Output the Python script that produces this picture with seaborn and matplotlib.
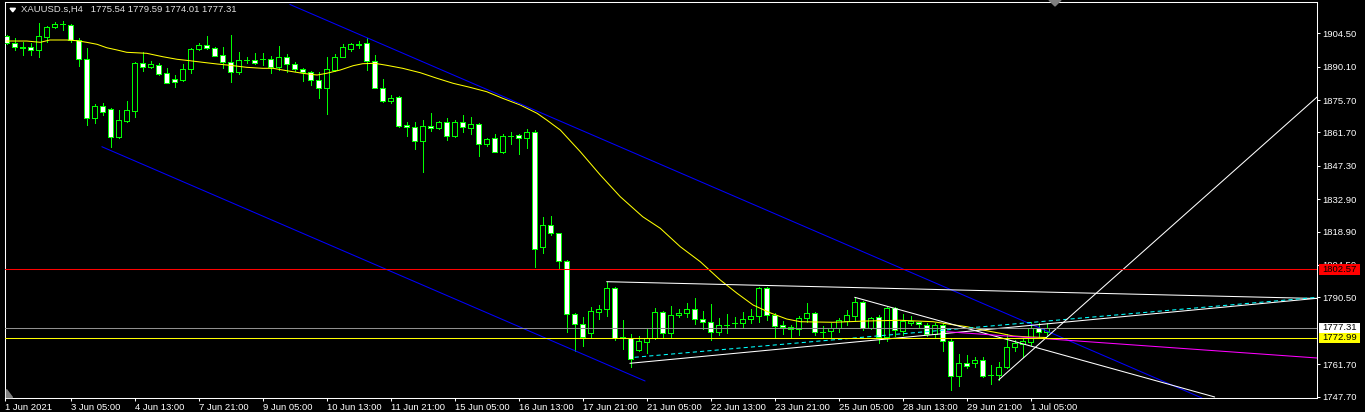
import numpy as np
import pandas as pd
import matplotlib
matplotlib.use('Agg')
import matplotlib.pyplot as plt
import matplotlib.transforms as mtransforms
from matplotlib.patches import Rectangle, Polygon
import seaborn as sns

# XAUUSD.s H4 candles, bar 0 = 1 Jun 2021 ... bar 130 = 1 Jul 2021
opens = [1903.33, 1900.18, 1898.59, 1898.59, 1897.16, 1903.03, 1907.09, 1908.30, 1908.08, 1901.61,
         1893.41, 1867.81, 1873.12, 1871.70, 1859.87, 1866.78, 1871.09, 1891.55, 1890.08, 1890.82,
         1887.23, 1884.77, 1884.34, 1888.96, 1897.59, 1899.32, 1898.02, 1895.13, 1892.24, 1887.92,
         1892.97, 1892.97, 1893.30, 1893.28, 1890.08, 1894.40, 1891.12, 1888.96, 1887.92, 1884.21,
         1880.76, 1888.66, 1894.40, 1897.72, 1899.66, 1900.18, 1892.67, 1881.02, 1875.28, 1876.88,
         1864.92, 1863.93, 1858.14, 1864.49, 1863.50, 1866.34, 1860.30, 1866.09, 1863.75, 1865.22,
         1856.59, 1859.18, 1853.40, 1860.30, 1860.60, 1859.18, 1861.77, 1812.39, 1821.63, 1818.18,
         1806.09, 1783.35, 1779.03, 1775.02, 1784.34, 1785.38, 1794.44, 1773.00, 1773.12, 1767.81,
         1771.39, 1772.86, 1784.08, 1775.02, 1782.79, 1783.91, 1785.38, 1781.06, 1779.77, 1775.71,
         1778.73, 1779.33, 1779.33, 1781.32, 1782.61, 1794.44, 1782.79, 1778.60, 1777.61, 1776.74,
         1781.49, 1783.65, 1775.45, 1776.14, 1777.43, 1780.46, 1782.61, 1788.40, 1777.18, 1781.92,
         1773.29, 1785.81, 1776.14, 1779.59, 1779.77, 1778.60, 1774.72, 1778.60, 1771.82, 1756.72,
         1762.07, 1762.07, 1763.49, 1757.15, 1757.02, 1760.34, 1769.23, 1770.27, 1771.39, 1777.18,
         1775.54]
highs = [1903.76, 1902.34, 1900.87, 1900.18, 1908.81, 1907.78, 1909.50, 1909.81, 1908.51, 1902.34,
         1898.02, 1873.85, 1874.29, 1872.13, 1871.39, 1875.28, 1891.98, 1896.30, 1892.54, 1891.81,
         1889.39, 1886.50, 1891.12, 1898.28, 1900.18, 1903.33, 1898.71, 1898.46, 1903.76, 1896.30,
         1894.40, 1895.87, 1896.12, 1894.83, 1899.02, 1895.43, 1891.98, 1889.65, 1888.36, 1887.92,
         1894.14, 1895.43, 1899.88, 1900.18, 1901.17, 1902.60, 1895.13, 1884.77, 1877.87, 1877.44,
         1866.34, 1866.09, 1867.08, 1869.97, 1866.78, 1867.81, 1867.08, 1869.24, 1868.24, 1865.65,
         1859.44, 1860.91, 1861.04, 1861.77, 1860.91, 1863.19, 1862.76, 1825.34, 1825.64, 1818.44,
         1806.65, 1783.91, 1782.18, 1786.24, 1787.23, 1797.29, 1795.13, 1780.76, 1774.59, 1773.85,
         1777.18, 1785.81, 1784.77, 1786.80, 1785.38, 1787.97, 1790.12, 1784.64, 1787.66, 1781.49,
         1783.22, 1782.18, 1784.08, 1785.38, 1794.87, 1794.87, 1783.65, 1780.33, 1778.60, 1782.48,
         1787.97, 1784.34, 1778.17, 1779.33, 1781.49, 1785.07, 1790.81, 1789.09, 1781.92, 1782.92,
         1786.24, 1786.24, 1783.35, 1782.48, 1780.02, 1779.33, 1779.59, 1779.33, 1772.86, 1766.08,
         1765.65, 1764.92, 1764.66, 1761.34, 1762.76, 1774.72, 1772.13, 1772.43, 1780.02, 1779.59,
         1779.59]
lows = [1899.88, 1897.29, 1895.13, 1895.13, 1894.40, 1900.87, 1906.66, 1905.92, 1900.61, 1890.51,
        1864.92, 1865.65, 1869.24, 1855.55, 1859.18, 1866.09, 1868.50, 1888.23, 1889.65, 1886.50,
        1882.92, 1881.45, 1883.91, 1887.49, 1897.29, 1897.72, 1894.57, 1889.65, 1883.61, 1886.93,
        1891.55, 1891.25, 1890.82, 1887.23, 1888.66, 1887.92, 1888.36, 1883.91, 1882.18, 1876.44,
        1869.54, 1888.23, 1894.14, 1896.86, 1898.28, 1888.66, 1880.76, 1874.98, 1874.54, 1864.19,
        1860.17, 1854.56, 1844.76, 1862.33, 1863.19, 1858.45, 1859.87, 1862.03, 1861.04, 1851.67,
        1855.99, 1853.14, 1852.97, 1856.72, 1852.40, 1855.12, 1803.42, 1809.80, 1817.44, 1803.07,
        1775.71, 1767.51, 1769.67, 1773.29, 1781.06, 1782.48, 1772.13, 1768.24, 1760.60, 1767.38,
        1766.39, 1772.43, 1773.55, 1773.55, 1782.18, 1782.18, 1779.03, 1776.74, 1772.13, 1774.28,
        1775.02, 1777.18, 1777.43, 1779.33, 1780.02, 1780.76, 1773.55, 1774.59, 1772.86, 1774.28,
        1780.02, 1774.28, 1773.29, 1773.29, 1775.71, 1778.60, 1780.76, 1776.44, 1776.74, 1770.70,
        1771.82, 1773.85, 1774.28, 1778.60, 1777.87, 1773.85, 1773.29, 1767.51, 1750.55, 1752.27,
        1759.91, 1760.34, 1756.29, 1753.14, 1754.86, 1759.91, 1767.51, 1764.92, 1769.97, 1773.55,
        1774.01]
closes = [1900.31, 1898.46, 1898.37, 1897.16, 1903.33, 1907.22, 1908.51, 1908.51, 1901.61, 1893.28,
          1867.81, 1873.12, 1870.40, 1859.87, 1866.95, 1871.27, 1891.55, 1890.08, 1891.12, 1886.93,
          1883.18, 1883.61, 1889.09, 1897.72, 1899.45, 1898.02, 1894.83, 1892.24, 1887.92, 1892.97,
          1893.00, 1891.81, 1893.20, 1890.08, 1894.40, 1891.12, 1888.96, 1887.92, 1884.21, 1880.76,
          1888.96, 1894.40, 1898.46, 1899.75, 1899.88, 1892.67, 1881.02, 1875.41, 1876.70, 1864.62,
          1863.93, 1858.14, 1864.49, 1863.50, 1866.34, 1860.30, 1866.09, 1863.93, 1865.22, 1856.59,
          1858.88, 1853.40, 1860.17, 1860.20, 1859.18, 1861.77, 1811.27, 1821.63, 1818.18, 1806.09,
          1783.35, 1779.03, 1773.29, 1784.51, 1785.38, 1794.44, 1772.86, 1773.40, 1764.06, 1771.69,
          1772.86, 1784.08, 1775.02, 1782.92, 1783.65, 1785.38, 1781.06, 1779.77, 1775.71, 1778.60,
          1778.70, 1779.30, 1781.32, 1782.61, 1794.44, 1782.79, 1778.30, 1777.61, 1776.74, 1781.49,
          1783.65, 1775.45, 1775.40, 1777.43, 1780.76, 1782.92, 1788.40, 1777.18, 1781.49, 1773.29,
          1785.81, 1776.44, 1780.46, 1780.46, 1778.90, 1774.72, 1778.60, 1771.82, 1756.72, 1762.07,
          1761.03, 1763.49, 1756.72, 1757.10, 1760.34, 1769.23, 1770.70, 1771.69, 1777.43, 1775.54,
          1777.31]

# yellow moving average (bar, price)
ma_bar = [0.0, 2.5, 4.2, 5.4, 7.5, 8.8, 10.0, 11.3, 12.5, 13.8, 15.0, 17.5, 19.5, 21.3, 22.9,
          24.5, 26.3, 27.9, 30.0, 32.0, 33.3, 35.0, 37.0, 38.8, 40.0, 41.7, 43.3, 44.5, 46.0,
          47.5, 49.5, 51.7, 53.8, 55.8, 57.9, 60.0, 62.0, 64.2, 66.3, 67.5, 69.2, 71.7, 74.2,
          76.7, 79.5, 81.7, 84.2, 86.7, 89.2, 91.3, 93.3, 95.4, 97.5, 99.2, 103.3, 107.5, 111.7,
          115.8, 117.9, 120.0, 122.0, 124.2, 125.8, 127.9, 129.9]
ma_price = [1901.17, 1901.17, 1900.61, 1901.61, 1901.61, 1901.30, 1900.61, 1899.75, 1898.28, 1897.29,
            1896.30, 1895.87, 1894.40, 1893.28, 1892.67, 1891.98, 1891.25, 1890.69, 1889.82, 1889.39,
            1889.39, 1888.36, 1887.23, 1886.50, 1887.23, 1888.66, 1890.51, 1891.38, 1891.55, 1890.69,
            1889.39, 1887.49, 1885.07, 1882.92, 1881.19, 1879.29, 1876.44, 1873.55, 1869.97, 1867.08,
            1862.76, 1853.40, 1843.34, 1833.97, 1825.34, 1820.33, 1812.39, 1805.92, 1798.02, 1792.28,
            1787.23, 1783.91, 1781.19, 1780.02, 1779.77, 1780.33, 1780.63, 1780.02, 1778.90, 1777.87,
            1776.44, 1775.02, 1773.85, 1773.42, 1773.20]

# drawn objects: (bar, price) end points
channel_top = [(35.4, 1916.95), (149.4, 1747.10)]
channel_bottom = [(11.9, 1855.55), (79.8, 1754.43)]
tri_top = [(75.0, 1797.29), (163.8, 1790.04)]
tri_bottom = [(77.9, 1762.07), (163.8, 1790.12)]
tri_bottom_dash = [(78.5, 1764.66), (163.8, 1790.55)]
wedge_top = [(106.0, 1790.56), (151.0, 1747.53)]
wedge_rise = [(124.0, 1754.90), (163.8, 1877.00)]
pink_line = [(117.5, 1775.71), (163.8, 1764.36)]

level_red = 1802.57
bid_price = 1777.31
level_yellow = 1772.99

price_ticks = [1904.50, 1890.10, 1875.70, 1861.70, 1847.30, 1832.90, 1818.90, 1804.50, 1790.50,
               1761.70, 1747.70]
time_ticks = [-0.16, 8, 16, 24, 32, 40, 48, 56, 64, 72, 80, 88, 96, 104, 112, 120, 128]
time_labels = ['1 Jun 2021', '3 Jun 05:00', '4 Jun 13:00', '7 Jun 21:00', '9 Jun 05:00',
               '10 Jun 13:00', '11 Jun 21:00', '15 Jun 05:00', '16 Jun 13:00', '17 Jun 21:00',
               '21 Jun 05:00', '22 Jun 13:00', '23 Jun 21:00', '25 Jun 05:00', '28 Jun 13:00',
               '29 Jun 21:00', '1 Jul 05:00']

header = 'XAUUSD.s,H4   1775.54 1779.59 1774.01 1777.31'

sns.set_style('dark', {'axes.facecolor': 'black', 'figure.facecolor': 'black',
                       'axes.edgecolor': 'white'})
plt.rcParams['font.family'] = ['Liberation Sans', 'DejaVu Sans']

W, H = 1365, 412
fig = plt.figure(figsize=(W / 100, H / 100), dpi=100)
fig.patch.set_facecolor('black')
ax = fig.add_axes([5 / W, 14 / H, 1312 / W, 396 / H])
ax.set_facecolor('black')

df = pd.DataFrame({'open': opens, 'high': highs, 'low': lows, 'close': closes})
df['bar'] = np.arange(len(df))
df['up'] = df.close >= df.open
df['bottom'] = df[['open', 'close']].min(axis=1)
df['height'] = (df.close - df.open).abs().clip(lower=0.05)

green = '#00ff00'
lw = 0.75
ax.vlines(df.bar, df.low, df.high, color=green, lw=0.72, zorder=2, antialiased=False)
up = df[df.up]
dn = df[~df.up]
ax.bar(up.bar, up.height, bottom=up.bottom, width=0.56, color='black', edgecolor=green,
       lw=0.72, zorder=3, antialiased=False)
ax.bar(dn.bar, dn.height, bottom=dn.bottom, width=0.56, color='white', edgecolor=green,
       lw=0.72, zorder=3, antialiased=False)

sns.lineplot(x=ma_bar, y=ma_price, ax=ax, color='#ffff00', lw=lw, zorder=4)


def seg(points, **kw):
    xs, ys = zip(*points)
    ax.plot(xs, ys, lw=lw, zorder=5, **kw)


seg(channel_top, color='#0000ff')
seg(channel_bottom, color='#0000ff')
seg(tri_top, color='white')
seg(tri_bottom, color='white')
seg(tri_bottom_dash, color='#00ffff', ls=(0, (4, 3)))
seg(wedge_top, color='white')
seg(wedge_rise, color='white')
seg(pink_line, color='#ff00ff')

ax.axhline(level_red, color='#ff0000', lw=lw, zorder=5)
ax.axhline(bid_price, color='#909090', lw=lw, zorder=5)
ax.axhline(level_yellow, color='#ffff00', lw=lw, zorder=5)

ax.set_xlim(-0.21, 163.79)
ax.set_ylim(1747.09, 1918.01)

for s in ax.spines.values():
    s.set_color('white')
    s.set_linewidth(lw)

ax.yaxis.tick_right()
ax.set_yticks(price_ticks)
ax.set_yticklabels(['%.2f' % p for p in price_ticks])
ax.set_xticks(time_ticks)
ax.set_xticklabels(time_labels)
for lbl in ax.get_xticklabels():
    lbl.set_horizontalalignment('left')
ax.tick_params(axis='y', colors='white', labelcolor='white', length=2.3, width=lw,
               labelsize=6.8, pad=1.5, right=True, left=False)
ax.tick_params(axis='x', colors='white', labelcolor='white', length=2.5, width=lw,
               labelsize=6.8, pad=0.8, bottom=True)
ax.grid(False)
ax.set_xlabel('')
ax.set_ylabel('')

# price boxes on the right scale
trans = mtransforms.blended_transform_factory(ax.transAxes, ax.transData)
for price, face in [(level_red, '#ff0000'), (bid_price, 'white'), (level_yellow, '#ffff00')]:
    ax.add_patch(Rectangle((1 + 2 / 1312, price - 2.3), 41 / 1312, 4.6, transform=trans,
                           facecolor=face, edgecolor='none', clip_on=False, zorder=10))
    ax.text(1 + 5 / 1312, price, '%.2f' % price, transform=trans, color='black', fontsize=6.8,
            va='center', ha='left', clip_on=False, zorder=11)

# header and small markers
fig.text(21 / W, 1 - 9.5 / H, header, color='#e0e0e0', fontsize=6.8, va='center', ha='left')
fig.add_artist(Polygon([[10 / W, 1 - 8.3 / H], [15.5 / W, 1 - 8.3 / H], [12.75 / W, 1 - 11.8 / H]],
                       closed=True, transform=fig.transFigure, color='white'))
fig.add_artist(Polygon([[1049 / W, 1.0], [1061 / W, 1.0], [1055 / W, 1 - 6 / H]],
                       closed=True, transform=fig.transFigure, color='#7f7f7f'))
fig.add_artist(Polygon([[6 / W, 1 - 389 / H], [6 / W, 1 - 397 / H], [12 / W, 1 - 397 / H]],
                       closed=True, transform=fig.transFigure, color='#7f7f7f'))

fig.savefig('out.png', dpi=100, facecolor='black')
